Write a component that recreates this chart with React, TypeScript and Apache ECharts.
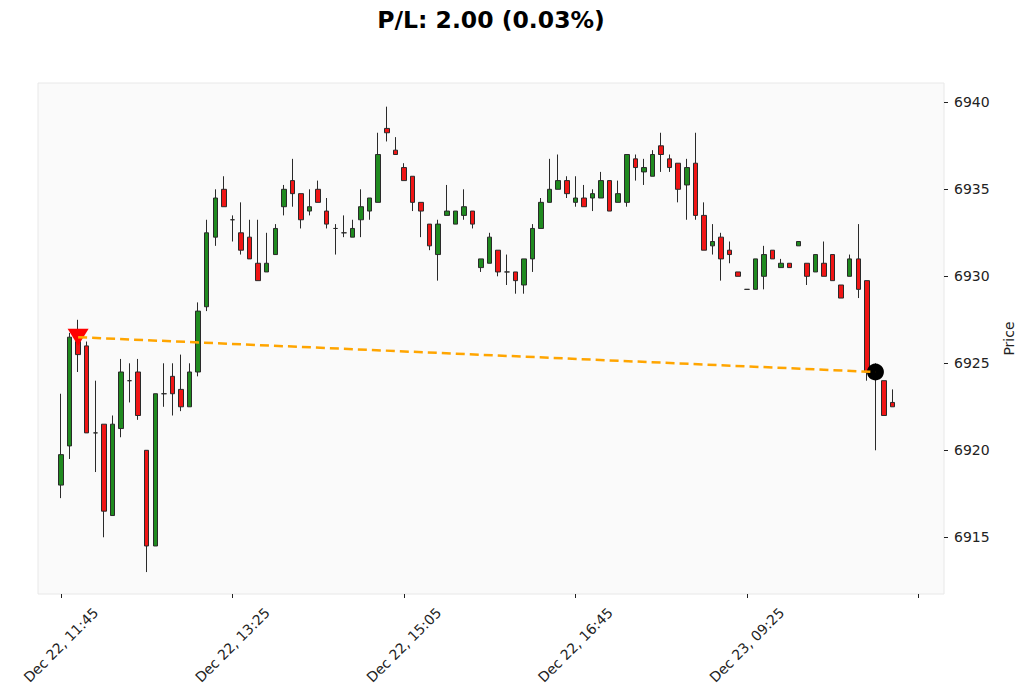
import React, { useEffect, useRef } from 'react';
import * as echarts from 'echarts';

// OHLC values per 5‑minute candle (index 0 = Dec 22, 11:45)
const opens = [
  6918, 6920.25, 6926.25, 6926, 6921, 6921.5, 6916.25, 6921.25, 6924, 6924.5,
  6920, 6914.5, 6923.25, 6924.25, 6923.5, 6922.5, 6924.5, 6928.25, 6932.25, 6935,
  6933.25, 6932.5, 6932.25, 6930.75, 6930.25, 6931.25, 6934, 6935.5, 6934.75, 6933.75,
  6935, 6933.75, 6932.75, 6932.5, 6932.25, 6933.25, 6933.75, 6934.25, 6938.5, 6937.25,
  6936.25, 6935.75, 6934.25, 6933, 6931.25, 6933.5, 6933, 6933.5, 6933.75, 6930.5,
  6930.75, 6931.5, 6930.25, 6930.25, 6929.5, 6931, 6932.75, 6934.25, 6935, 6935.5,
  6934.25, 6934.5, 6934.5, 6934.5, 6935.5, 6934.25, 6934.25, 6936.75, 6936, 6935.75,
  6937.5, 6936.75, 6936.5, 6935.25, 6936.5, 6933.5, 6931.75, 6932.25, 6931.5, 6930.25,
  6929.25, 6929.25, 6930, 6931.5, 6930.5, 6930.75, 6931.75, 6930.75, 6930.25, 6930.75,
  6931.25, 6929.5, 6930, 6931, 6929.75, 6924.5, 6924, 6922.75,
];
const closes = [
  6919.75, 6926.5, 6925.5, 6921, 6921, 6916.5, 6921.5, 6924.5, 6924, 6922,
  6914.5, 6923.25, 6923.25, 6923.25, 6922.5, 6924.5, 6928, 6932.5, 6934.5, 6934,
  6933.25, 6931.5, 6931, 6929.75, 6930.75, 6932.75, 6935, 6934.75, 6933.25, 6934,
  6934.25, 6933, 6932.75, 6932.5, 6932.75, 6934, 6934.5, 6937, 6938.25, 6937,
  6935.5, 6934.25, 6933.75, 6931.75, 6933, 6933.75, 6933.75, 6934, 6933, 6931,
  6932.25, 6930.25, 6930.25, 6929.75, 6931, 6932.75, 6934.25, 6935, 6935.5, 6934.75,
  6934.5, 6934, 6934.75, 6935.5, 6933.75, 6934.75, 6937, 6936.25, 6936.25, 6937,
  6937, 6936.25, 6935, 6936.25, 6933.5, 6931.5, 6932, 6931, 6931.25, 6930,
  6929.25, 6931, 6931.25, 6931, 6930.75, 6930.5, 6932, 6930, 6931.25, 6930,
  6929.75, 6928.75, 6931, 6929.25, 6924.5, 6924.75, 6922, 6922.5,
];
const highs = [
  6923.25, 6926.75, 6927.5, 6926.25, 6924, 6921.5, 6922, 6925.25, 6925, 6925.25,
  6920, 6923.25, 6925, 6925, 6925.5, 6925, 6928.5, 6933.25, 6935, 6935.75,
  6933.5, 6934.25, 6933.25, 6933.25, 6932.5, 6933, 6935.25, 6936.75, 6934.75, 6935,
  6935.5, 6934.5, 6933, 6933.5, 6933.25, 6935, 6934.5, 6938.25, 6939.75, 6938,
  6936.5, 6935.75, 6934.25, 6933, 6933.25, 6935.25, 6933.75, 6935, 6933.75, 6931,
  6932.5, 6931.5, 6931.25, 6930.25, 6931, 6933, 6934.5, 6936.75, 6937, 6935.75,
  6935.75, 6935.25, 6935, 6936, 6935.5, 6935.5, 6937, 6937, 6936.75, 6937.25,
  6938.25, 6937, 6936.5, 6936.75, 6938.25, 6934.25, 6933, 6932.5, 6932, 6930.25,
  6929.25, 6931, 6931.75, 6931.5, 6931, 6930.75, 6932, 6930.75, 6931.25, 6932,
  6931.25, 6929.5, 6931.25, 6933, 6929.75, 6925, 6924, 6923.5,
];
const lows = [
  6917.25, 6919.5, 6924.5, 6921, 6918.75, 6915, 6916.25, 6920.75, 6922.75, 6921.75,
  6913, 6914.5, 6922.5, 6922, 6922.25, 6922.5, 6924.25, 6928, 6931.75, 6934,
  6932, 6931.25, 6931, 6929.75, 6930.25, 6931.25, 6933.5, 6934, 6932.75, 6933.5,
  6934.25, 6932.75, 6931.25, 6932.25, 6932.25, 6932.25, 6933.25, 6934.25, 6937.75, 6937,
  6935.5, 6933.75, 6932.25, 6931.5, 6929.75, 6933.5, 6933, 6933.25, 6932.75, 6930.25,
  6930.75, 6930, 6929.5, 6929, 6929, 6930.25, 6932.75, 6934.25, 6935, 6934.5,
  6934, 6934, 6933.75, 6934.5, 6933.75, 6934.25, 6934, 6935.5, 6935.25, 6935.75,
  6936, 6936, 6934.25, 6933.25, 6933.25, 6931.5, 6931.25, 6929.75, 6930.75, 6930,
  6929.25, 6929.25, 6929.25, 6931, 6930.5, 6930.5, 6931.75, 6929.5, 6930.25, 6930,
  6929.75, 6928.75, 6930, 6928.75, 6924, 6920, 6922, 6922.5,
];

// x tick positions (candle index) and their labels
const tickPositions = [0, 20, 40, 60, 80, 100];
const tickLabels = ['Dec 22, 11:45', 'Dec 22, 13:25', 'Dec 22, 15:05', 'Dec 22, 16:45', 'Dec 23, 09:25', ''];
const priceTicks = [6915, 6920, 6925, 6930, 6935, 6940];

// trade: entry (sell) and exit
const entryIndex = 2;
const entryPrice = 6926.5;
const exitIndex = 95;
const exitPrice = 6924.5;
const titleText = 'P/L: 2.00 (0.03%)';

const FONT = 'DejaVu Sans';
const UP = '#1f8a1f';
const DOWN = '#f01515';

export default function App() {
  const ref = useRef<HTMLDivElement>(null);
  useEffect(() => {
    document.body.style.margin = '0';
    const chart = echarts.init(ref.current!, null, { renderer: 'svg' });
    const candleData = opens.map((o, i) => [i, o, closes[i], lows[i], highs[i]]);
    chart.setOption({
      animation: false,
      backgroundColor: '#ffffff',
      textStyle: { fontFamily: FONT },
      graphic: [
        {
          type: 'text',
          x: 491,
          y: 8,
          style: {
            text: titleText,
            font: `bold 23.5px "${FONT}"`,
            fill: '#000',
            textAlign: 'center',
            textVerticalAlign: 'top',
          },
        },
      ],
      grid: {
        left: 38,
        right: 78,
        top: 83,
        bottom: 105,
        show: true,
        backgroundColor: '#fafafa',
        borderColor: '#e8e8e8',
        borderWidth: 1,
      },
      xAxis: {
        type: 'value',
        min: -2.68,
        max: 103,
        splitLine: { show: false },
        axisLine: { show: false, onZero: false },
        axisTick: {
          show: true,
          customValues: tickPositions,
          length: 4,
          lineStyle: { color: '#222', width: 1 },
        },
        axisLabel: {
          customValues: tickPositions.slice(0, 5),
          rotate: 45,
          align: 'center',
          verticalAlign: 'middle',
          margin: 51,
          fontSize: 14,
          fontFamily: FONT,
          color: '#222',
          formatter: (v: number) => {
            const k = tickPositions.indexOf(Math.round(v));
            return k >= 0 ? tickLabels[k] : '';
          },
        },
      },
      yAxis: {
        type: 'value',
        position: 'right',
        min: 6911.74,
        max: 6941.11,
        scale: true,
        splitLine: { show: false },
        axisLine: { show: false, onZero: false },
        axisTick: {
          show: true,
          customValues: priceTicks,
          length: 4,
          lineStyle: { color: '#222', width: 1 },
        },
        axisLabel: {
          customValues: priceTicks,
          margin: 10,
          fontSize: 14,
          fontFamily: FONT,
          color: '#222',
          formatter: (v: number) => String(Math.round(v)),
        },
        name: 'Price',
        nameLocation: 'middle',
        nameRotate: 90,
        nameGap: 58,
        nameTextStyle: { fontSize: 14, fontFamily: FONT, color: '#222' },
      },
      series: [
        {
          type: 'candlestick',
          data: candleData,
          encode: { x: 0, y: [1, 2, 3, 4] },
          barWidth: 5,
          z: 2,
          itemStyle: {
            color: UP,
            color0: DOWN,
            borderColor: '#2a2a2a',
            borderColor0: '#2a2a2a',
            borderWidth: 1,
          },
        },
        {
          type: 'scatter',
          data: [[entryIndex, entryPrice]],
          symbol: 'triangle',
          symbolRotate: 180,
          symbolSize: [21, 17],
          z: 3,
          itemStyle: { color: '#ff0000', opacity: 1 },
        },
        {
          type: 'scatter',
          data: [[exitIndex, exitPrice]],
          symbol: 'circle',
          symbolSize: 17,
          z: 3,
          itemStyle: { color: '#000000', opacity: 1 },
        },
        {
          type: 'line',
          data: [
            [entryIndex, entryPrice],
            [exitIndex, exitPrice],
          ],
          symbol: 'none',
          z: 4,
          lineStyle: { color: '#ffa500', width: 2.5, type: [9, 5] },
        },
      ],
    });
    return () => chart.dispose();
  }, []);
  return <div ref={ref} style={{ width: 1024, height: 699 }} />;
}
